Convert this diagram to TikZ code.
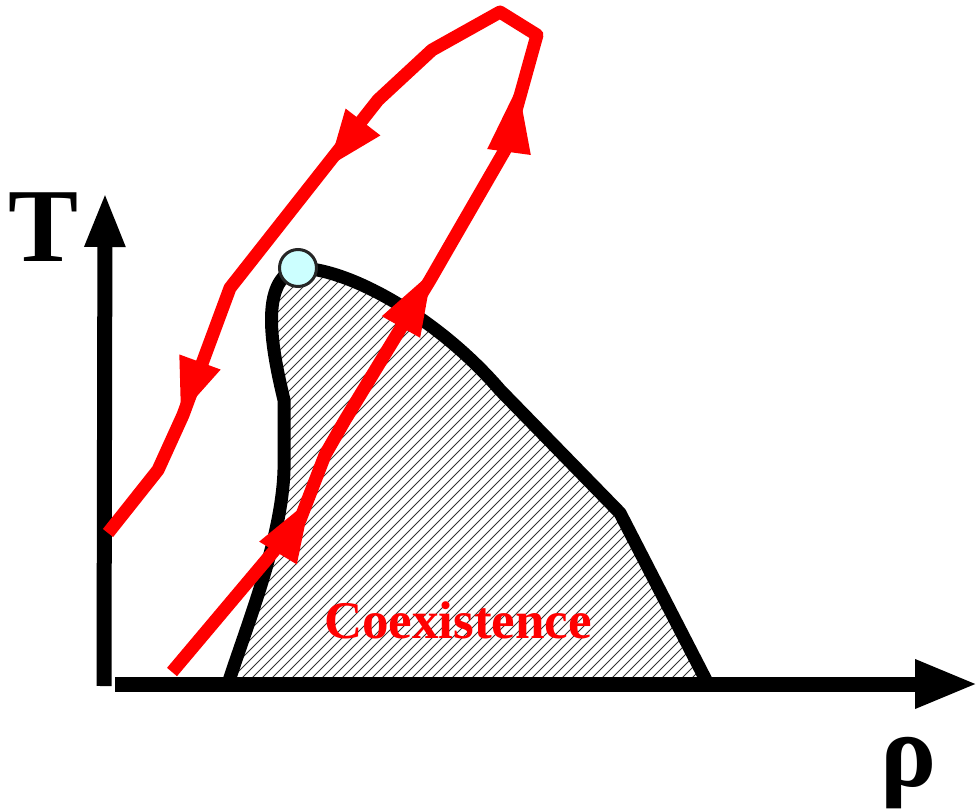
\documentclass[tikz,border=0pt]{standalone}
\usepackage{fontspec}
\setmainfont{Liberation Serif}
\usetikzlibrary{calc,arrows.meta}
\definecolor{cpfill}{RGB}{204,255,255}
\newcommand\redhead[2]{%
  \coordinate (hb) at #2;
  \coordinate (ht) at #1;
  \fill[red] (ht) -- ($(hb)!22pt!90:(ht)$) -- ($(hb)!22pt!-90:(ht)$) -- cycle;}
\begin{document}
\begin{tikzpicture}[x=1pt,y=-1pt,
  axisline/.style={line width=15pt},
  outline/.style={line width=13pt, line join=round},
  hatchline/.style={line width=0.85pt, black!80},
  redline/.style={line width=13pt, red, line join=round},
  bigbold/.style={font=\bfseries\fontsize{105}{105}\selectfont, inner sep=0pt}]
\useasboundingbox (0,0) rectangle (980,811);

% hatched coexistence region
\begin{scope}
  \clip (228,684) .. controls (245,630) and (282,540) .. (284,470) -- (284,400)
    .. controls (272,350) and (258,280) .. (298,268)
    .. controls (350,268) and (440,320) .. (500,390) -- (620,513) -- (708,684) -- cycle;
  \foreach \c in {450,460,...,1430} \draw[hatchline] ({\c-700},700) -- ({\c-250},250);
\end{scope}
\draw[outline] (228,684) .. controls (245,630) and (282,540) .. (284,470) -- (284,400)
    .. controls (272,350) and (258,280) .. (298,268)
    .. controls (350,268) and (440,320) .. (500,390) -- (620,513) -- (708,684) -- cycle;

% axes
\coordinate (ybot) at (104,686);
\coordinate (ytop) at (105,192);
\coordinate (xleft) at (115,684);
\coordinate (xright) at (978,684);
\draw[axisline, -{Triangle[length=55pt,width=37pt]}] (ybot) -- (ytop);
\draw[axisline, -{Triangle[length=63pt,width=45pt]}] (xleft) -- (xright);

% critical point
\node[circle, draw=black!85, line width=3pt, fill=cpfill, minimum size=37pt, inner sep=0pt] (cp) at (298,268) {};

% red path
\draw[redline] (172,672) -- (300,520) -- (325,455) -- (345,420) -- (430,280) -- (453,240)
  -- (505,150) -- (537,35) -- (500,12) -- (432,50) -- (378,100) -- (230,288)
  -- (183,415) -- (158,470) -- (108,533);
\redhead{(310,500)}{(278,553)}
\redhead{(432,272)}{(401,327)}
\redhead{(518,86)}{(509,152)}
\redhead{(329,166)}{(363,122)}
\redhead{(181,414)}{(200,362)}

% labels
\node[bigbold] (tlabel) at (44,227) {T};
\node[bigbold] (rholabel) at (909,773) {ρ};
\node[text=red, font=\bfseries\fontsize{53}{53}\selectfont, anchor=base, inner sep=0pt] (coex) at (458,638) {Coexistence};
\end{tikzpicture}
\end{document}
